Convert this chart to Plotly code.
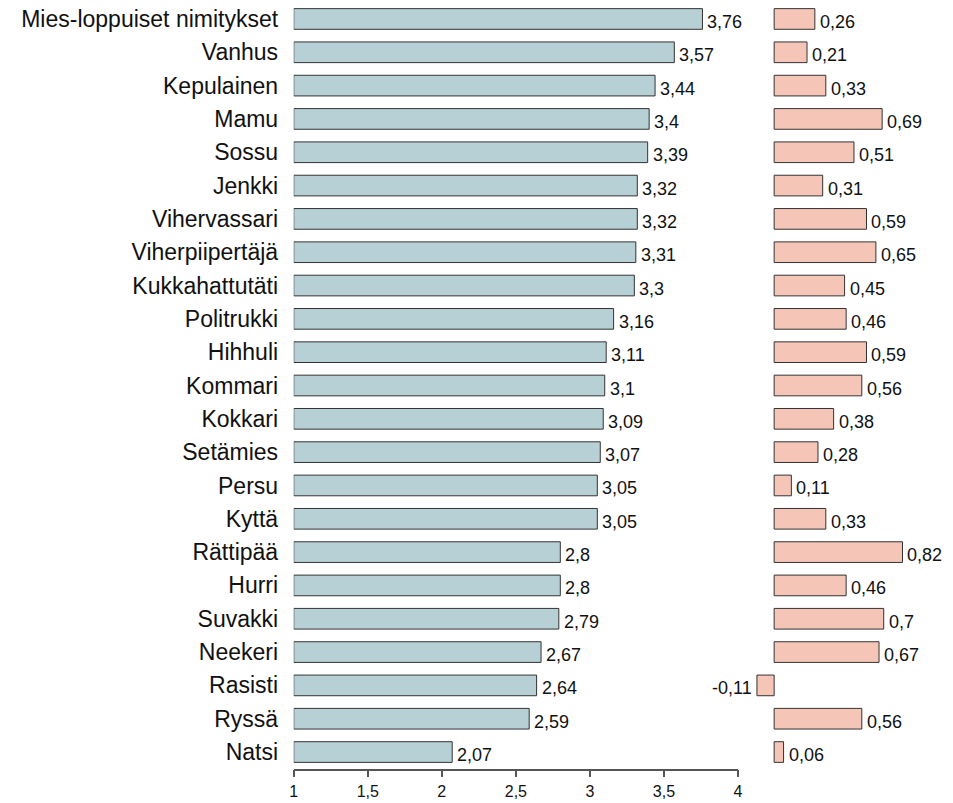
import plotly.graph_objects as go

categories = ["Mies-loppuiset nimitykset", "Vanhus", "Kepulainen", "Mamu", "Sossu", "Jenkki",
              "Vihervassari", "Viherpiipertäjä", "Kukkahattutäti", "Politrukki", "Hihhuli",
              "Kommari", "Kokkari", "Setämies", "Persu", "Kyttä", "Rättipää", "Hurri",
              "Suvakki", "Neekeri", "Rasisti", "Ryssä", "Natsi"]
left_values = [3.76, 3.57, 3.44, 3.4, 3.39, 3.32, 3.32, 3.31, 3.3, 3.16, 3.11, 3.1, 3.09,
               3.07, 3.05, 3.05, 2.8, 2.8, 2.79, 2.67, 2.64, 2.59, 2.07]
right_values = [0.26, 0.21, 0.33, 0.69, 0.51, 0.31, 0.59, 0.65, 0.45, 0.46, 0.59, 0.56, 0.38,
                0.28, 0.11, 0.33, 0.82, 0.46, 0.7, 0.67, -0.11, 0.56, 0.06]
tick_values = [1, 1.5, 2, 2.5, 3, 3.5, 4]
tick_labels = ["1", "1,5", "2", "2,5", "3", "3,5", "4"]
left_base = 1


def fi(v):
    return ("%g" % v).replace(".", ",")


W, H = 953, 803
font = "Arial, Liberation Sans, sans-serif"

fig = go.Figure()
fig.add_trace(go.Bar(
    y=categories, x=[v - left_base for v in left_values], base=left_base,
    orientation="h", xaxis="x", yaxis="y",
    marker=dict(color="rgb(183,208,213)", line=dict(color="#333333", width=1)),
    width=0.62, hoverinfo="skip",
))
fig.add_trace(go.Bar(
    y=categories, x=right_values,
    orientation="h", xaxis="x2", yaxis="y",
    marker=dict(color="rgb(245,198,183)", line=dict(color="#333333", width=1)),
    width=0.62, hoverinfo="skip",
))

annotations = []
for cat, v in zip(categories, left_values):
    annotations.append(dict(
        x=v, y=cat, xref="x", yref="y", text=fi(v), showarrow=False,
        xanchor="left", yanchor="middle", xshift=3, yshift=-3,
        font=dict(size=18, color="#111111", family=font),
    ))
for cat, v in zip(categories, right_values):
    annotations.append(dict(
        x=v, y=cat, xref="x2", yref="y", text=fi(v), showarrow=False,
        xanchor="left" if v >= 0 else "right", yanchor="middle",
        xshift=3 if v >= 0 else -3, yshift=-3,
        font=dict(size=18, color="#111111", family=font),
    ))

top_px, bot_px = 2.3, 768.7
x1_l, x1_r = 292.5, 741.0
x2_l = 742.0
zero2 = 777.5
ppu2 = 158.0

fig.update_layout(
    width=W, height=H,
    margin=dict(l=0, r=0, t=0, b=0),
    paper_bgcolor="white", plot_bgcolor="white",
    showlegend=False,
    font=dict(family=font, color="#111111"),
    annotations=annotations,
    xaxis=dict(
        domain=[x1_l / W, x1_r / W], range=[1, 4],
        showgrid=False, zeroline=False,
        showline=True, linecolor="#555555", linewidth=1.5,
        ticks="outside", ticklen=7, tickcolor="#555555", tickwidth=1.5,
        tickvals=tick_values, ticktext=tick_labels,
        tickfont=dict(size=16, color="#111111"),
        anchor="y", fixedrange=True,
    ),
    xaxis2=dict(
        domain=[x2_l / W, 1.0],
        range=[(x2_l - zero2) / ppu2, (W - zero2) / ppu2],
        visible=False, anchor="y", fixedrange=True,
    ),
    yaxis=dict(
        domain=[1 - bot_px / H, 1 - top_px / H],
        autorange=False, range=[len(categories) - 0.5, -0.5],
        categoryorder="array", categoryarray=categories,
        showgrid=False, zeroline=False, showline=False,
        ticks="outside", ticklen=10, tickcolor="rgba(0,0,0,0)",
        tickfont=dict(size=23, color="#111111"),
        anchor="x", fixedrange=True,
    ),
)

fig.write_html(
    "out.html",
    config={"displayModeBar": False},
    post_script="document.body.style.margin='0';document.body.style.overflow='hidden';",
)
